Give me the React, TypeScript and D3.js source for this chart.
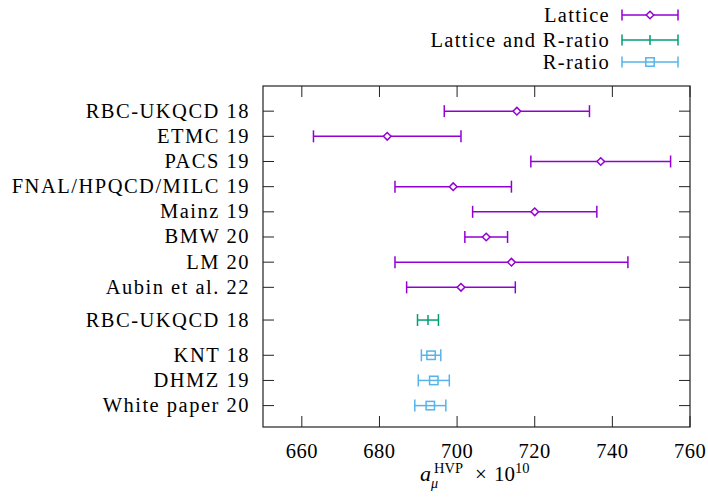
import * as d3 from 'd3';

// rows from top to bottom
const rowLabels = [
  'RBC-UKQCD 18', 'ETMC 19', 'PACS 19', 'FNAL/HPQCD/MILC 19', 'Mainz 19',
  'BMW 20', 'LM 20', 'Aubin et al. 22', 'RBC-UKQCD 18', 'KNT 18', 'DHMZ 19', 'White paper 20',
];
const rowPos = [11.7, 10.7, 9.7, 8.7, 7.7, 6.7, 5.7, 4.7, 3.4, 2, 1, 0];
const rowGroup = [0, 0, 0, 0, 0, 0, 0, 0, 1, 2, 2, 2];
const central = [715.4, 682, 737, 699, 720, 707.5, 714, 701, 692.5, 693.3, 694.0, 693.1];
const lower = [696.7, 663, 719, 684, 704, 702, 684, 687, 689.8, 690.8, 690.0, 689.1];
const upper = [734.1, 701, 755, 714, 736, 713, 744, 715, 695.2, 695.8, 698.0, 697.1];

const groupNames = ['Lattice', 'Lattice and R-ratio', 'R-ratio'];
const groupColors = ['#9400d3', '#009e73', '#56b4e9'];

const xTicks = [660, 680, 700, 720, 740, 760];

const W = 708;
const H = 499;
const left = 263, right = 690, top = 86, bottom = 427;
const serif = { fontFamily: "'Liberation Serif'" };

function Marker({ g, x, y, c }: { g: number; x: number; y: number; c: string }) {
  if (g === 0) {
    const s = 3.8;
    return <path d={`M${x},${y - s}L${x + s},${y}L${x},${y + s}L${x - s},${y}Z`} fill="white" stroke={c} strokeWidth={1.5} />;
  }
  if (g === 1) {
    return <line x1={x} x2={x} y1={y - 5} y2={y + 5} stroke={c} strokeWidth={1.5} />;
  }
  const s = 4.2;
  return <rect x={x - s} y={y - s} width={2 * s} height={2 * s} fill="none" stroke={c} strokeWidth={1.5} />;
}

export default function App() {
  const x = d3.scaleLinear().domain([650, 760]).range([left, right]);
  const y = d3.scaleLinear().domain([-0.85, 12.7]).range([bottom, top]);
  const cap = 6;

  const legendY = [15, 40, 62];
  const lx0 = 622, lx1 = 678, lxm = 650;

  return (
    <svg width={W} height={H} style={{ display: 'block', position: 'absolute', left: 0, top: 0 }}>
      <rect width={W} height={H} fill="white" />

      {/* legend */}
      {groupNames.map((n, i) => (
        <g key={n}>
          <text x={610} y={legendY[i] + 6.5} textAnchor="end" fontSize={20.5} letterSpacing={1.3} style={serif}>{n}</text>
          <line x1={lx0} x2={lx1} y1={legendY[i]} y2={legendY[i]} stroke={groupColors[i]} strokeWidth={1.5} />
          <line x1={lx0} x2={lx0} y1={legendY[i] - 5.5} y2={legendY[i] + 5.5} stroke={groupColors[i]} strokeWidth={1.5} />
          <line x1={lx1} x2={lx1} y1={legendY[i] - 5.5} y2={legendY[i] + 5.5} stroke={groupColors[i]} strokeWidth={1.5} />
          <Marker g={i} x={lxm} y={legendY[i]} c={groupColors[i]} />
        </g>
      ))}

      {/* ticks */}
      {xTicks.map(t => (
        <g key={t}>
          <line x1={x(t)} x2={x(t)} y1={bottom} y2={bottom - 11} stroke="#222" strokeWidth={1} />
          <line x1={x(t)} x2={x(t)} y1={top} y2={top + 11} stroke="#222" strokeWidth={1} />
          <text x={x(t)} y={458} textAnchor="middle" fontSize={20.5} letterSpacing={0.5} style={serif}>{t}</text>
        </g>
      ))}
      {rowPos.map((p, i) => (
        <g key={i}>
          <line x1={left} x2={left + 11} y1={y(p)} y2={y(p)} stroke="#222" strokeWidth={1} />
          <line x1={right - 11} x2={right} y1={y(p)} y2={y(p)} stroke="#222" strokeWidth={1} />
          <text x={250} y={y(p) + 6.5} textAnchor="end" fontSize={20.5} letterSpacing={1.5} style={serif}>{rowLabels[i]}</text>
        </g>
      ))}

      {/* error bars */}
      {rowPos.map((p, i) => {
        const c = groupColors[rowGroup[i]];
        const yy = y(p);
        return (
          <g key={'e' + i}>
            <line x1={x(lower[i])} x2={x(upper[i])} y1={yy} y2={yy} stroke={c} strokeWidth={1.5} />
            <line x1={x(lower[i])} x2={x(lower[i])} y1={yy - cap} y2={yy + cap} stroke={c} strokeWidth={1.5} />
            <line x1={x(upper[i])} x2={x(upper[i])} y1={yy - cap} y2={yy + cap} stroke={c} strokeWidth={1.5} />
            <Marker g={rowGroup[i]} x={x(central[i])} y={yy} c={c} />
          </g>
        );
      })}

      <rect x={left} y={top} width={right - left} height={bottom - top} fill="none" stroke="#222" strokeWidth={1.2} />

      {/* x label */}
      <text x={420} y={481} fontSize={22} fontStyle="italic" style={serif}>a</text>
      <text x={431} y={488} fontSize={14} fontStyle="italic" style={serif}>μ</text>
      <text x={434} y={473} fontSize={14.5} style={serif}>HVP</text>
      <text x={475} y={481} fontSize={21} style={serif}>×</text>
      <text x={494} y={481} fontSize={21} style={serif}>10</text>
      <text x={515} y={473} fontSize={14.5} style={serif}>10</text>
    </svg>
  );
}
